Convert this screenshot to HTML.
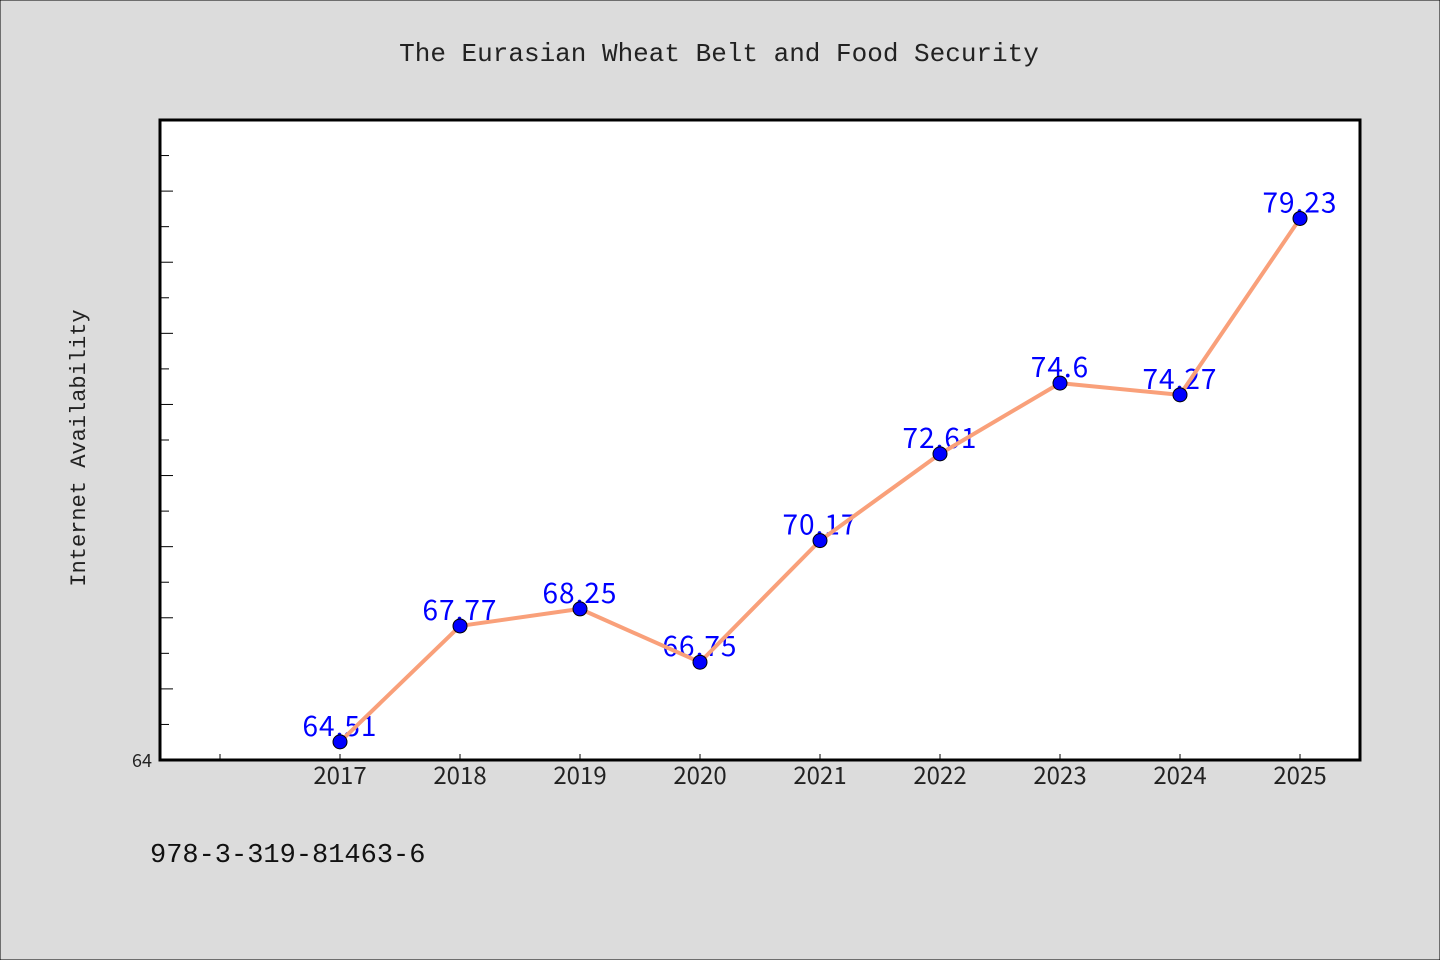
<!DOCTYPE html>
<html><head><meta charset="utf-8"><style>
html,body{margin:0;padding:0;background:#dcdcdc;}
svg{display:block;}
text{font-family:"WenQuanYi Zen Hei","Noto Sans CJK SC","Liberation Sans",sans-serif;}
.mono{font-family:"WenQuanYi Zen Hei Mono","Liberation Mono",monospace;}
</style></head><body>
<svg id="chart" width="1440" height="960" xmlns="http://www.w3.org/2000/svg">
<rect x="0" y="0" width="1440" height="960" fill="#dcdcdc" stroke="#000" stroke-width="1"/>
<text class="mono" x="719" y="61" text-anchor="middle" font-size="26" fill="#222">The Eurasian Wheat Belt and Food Security</text>
<rect x="160" y="120" width="1200" height="640" fill="#fff"/>
<text class="mono" transform="translate(85,448) rotate(-90)" text-anchor="middle" font-size="22" fill="#222">Internet Availability</text>
<text class="mono" x="150" y="862" font-size="27" fill="#111">978-3-319-81463-6</text>
<g id="ticks"></g><g id="labels"></g><g id="series"></g>
<rect x="160" y="120" width="1200" height="640" fill="none" stroke="#000" stroke-width="3"/>
</svg>
<script>
const years = [2017,2018,2019,2020,2021,2022,2023,2024,2025];
const values = [64.51,67.77,68.25,66.75,70.17,72.61,74.6,74.27,79.23];
const valueLabels = ["64.51","67.77","68.25","66.75","70.17","72.61","74.6","74.27","79.23"];
const yMin = 64, yMax = 82;
const xMin = 2015.5, xMax = 2025.5;
const NS = "http://www.w3.org/2000/svg";
const px0=160, px1=1360, py0=760, py1=120;
const sx = v => px0 + (v - xMin)/(xMax - xMin)*(px1-px0);
const sy = v => py0 - (v - yMin)/(yMax - yMin)*(py0-py1);
function mk(tag, attrs, parent){const e=document.createElementNS(NS,tag);for(const k in attrs)e.setAttribute(k,attrs[k]);parent.appendChild(e);return e;}
const ticks=document.getElementById('ticks'), labels=document.getElementById('labels'), series=document.getElementById('series');
for(let v=yMin+1; v<yMax; v++){
  const y=sy(v), len=(v%2===0)?13:9;
  const t=mk('line',{x1:px0,x2:px0+len,y1:y,y2:y,stroke:'#000','stroke-width':1},ticks);
  
  
}
const yl=mk('text',{x:152,y:sy(yMin)+7,'text-anchor':'end','font-size':18,fill:'#222'},ticks);
yl.textContent=String(yMin);


const tickYears=[2016].concat(years);
tickYears.forEach(yr=>{
  const x=sx(yr);
  const t=mk('line',{x1:x,x2:x,y1:py0,y2:py0-6,stroke:'#000','stroke-width':1},ticks);
  
  
});
years.forEach(yr=>{
  const l=mk('text',{x:sx(yr),y:784,'text-anchor':'middle','font-size':24,fill:'#222'},ticks);
  l.textContent=String(yr);
  
  
});
years.forEach((yr,i)=>{
  const l=mk('text',{x:sx(yr),y:sy(values[i])-6,'text-anchor':'middle','font-size':28,'letter-spacing':1,fill:'#0000ff'},labels);
  l.textContent=valueLabels[i];
  
  
});
const pts=years.map((yr,i)=>sx(yr)+','+sy(values[i])).join(' ');
const pl=mk('polyline',{points:pts,fill:'none',stroke:'#f9a07a','stroke-width':4,'stroke-linejoin':'round'},series);


years.forEach((yr,i)=>{
  const c=mk('circle',{cx:sx(yr),cy:sy(values[i]),r:7,fill:'#0000ff',stroke:'#000','stroke-width':1},series);
  
  
});
</script>
</body></html>
